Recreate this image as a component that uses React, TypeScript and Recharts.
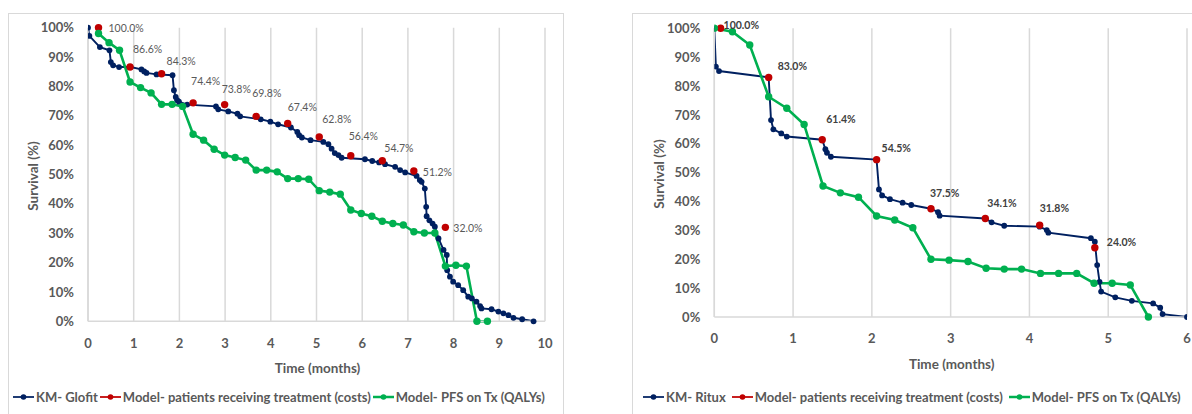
import React from 'react';
import { LineChart, Line, XAxis, YAxis, CartesianGrid, LabelList } from 'recharts';

type Pt = [number, number];

// ---------- Left chart (Glofit) ----------
const glofitKM: Pt[] = [
  [0, 100], [0.03, 97.2], [0.26, 93.4], [0.47, 92.3], [0.5, 88.3], [0.55, 87.2], [0.68, 86.6], [0.93, 86.6],
  [1.17, 85.8], [1.23, 85.1], [1.28, 84.6], [1.5, 84.1], [1.85, 83.8], [1.88, 78.7], [1.92, 76.4], [1.95, 75.3],
  [1.99, 74.8], [2.17, 73.8], [2.8, 73.2], [2.85, 72.2], [3.07, 71.5], [3.27, 70.7], [3.33, 69.8], [3.78, 68.8],
  [3.99, 68.0], [4.16, 67.1], [4.44, 66.0], [4.58, 64.5], [4.62, 63.4], [4.68, 62.6], [4.87, 61.7], [5.15, 61.1],
  [5.26, 60.3], [5.33, 58.8], [5.4, 57.3], [5.48, 56.6], [5.55, 55.7], [6.06, 55.2], [6.22, 54.6], [6.37, 54.1],
  [6.5, 53.5], [6.72, 52.6], [6.83, 51.5], [6.94, 50.7], [7.19, 49.5], [7.26, 48.1], [7.3, 47.5], [7.37, 45.2],
  [7.4, 39.0], [7.41, 35.8], [7.47, 34.4], [7.54, 33.3], [7.59, 32.2], [7.67, 28.2], [7.78, 24.3], [7.85, 22.6],
  [7.86, 17.4], [7.92, 15.2], [7.99, 13.5], [8.1, 12.3], [8.21, 10.6], [8.32, 8.4], [8.4, 7.8], [8.5, 6.7],
  [8.58, 5.2], [8.61, 4.4], [8.83, 4.1], [8.98, 3.3], [9.09, 2.7], [9.2, 2.1], [9.31, 1.2], [9.5, 0.7], [9.75, 0],
];
const glofitModelCosts: Pt[] = [
  [0.23, 100.0], [0.92, 86.6], [1.61, 84.3], [2.3, 74.4], [2.99, 73.8], [3.68, 69.8],
  [4.37, 67.4], [5.06, 62.8], [5.75, 56.4], [6.44, 54.7], [7.13, 51.2], [7.82, 32.0],
];
const glofitModelPFS: Pt[] = [
  [0.23, 98.0], [0.46, 94.9], [0.69, 92.3], [0.92, 81.5], [1.15, 79.6], [1.38, 77.8], [1.61, 73.9], [1.84, 73.9],
  [2.07, 73.2], [2.3, 63.7], [2.53, 61.7], [2.76, 58.6], [2.99, 56.6], [3.22, 55.8], [3.45, 54.9], [3.68, 51.5],
  [3.91, 51.5], [4.14, 50.9], [4.37, 48.6], [4.6, 48.6], [4.83, 48.4], [5.06, 44.5], [5.29, 44.0], [5.52, 43.3],
  [5.75, 37.9], [5.98, 36.7], [6.21, 35.8], [6.44, 34.1], [6.67, 33.3], [6.9, 32.8], [7.13, 30.5], [7.36, 30.1],
  [7.59, 30.1], [7.82, 18.8], [8.05, 19.1], [8.28, 18.8], [8.51, 0], [8.74, 0],
];
const leftXTicks = [0, 1, 2, 3, 4, 5, 6, 7, 8, 9, 10];

// ---------- Right chart (Ritux) ----------
const rituxKM: Pt[] = [
  [0, 100], [0.02, 86.7], [0.06, 85.2], [0.69, 83.0], [0.72, 68.2], [0.75, 65.0], [0.85, 63.6], [0.92, 62.5],
  [1.37, 61.4], [1.41, 58.1], [1.43, 56.9], [1.48, 55.5], [2.06, 54.5], [2.09, 44.2], [2.13, 42.1], [2.23, 40.8],
  [2.39, 39.6], [2.5, 38.8], [2.75, 37.5], [2.84, 36.3], [2.86, 35.1], [3.44, 34.1], [3.52, 32.8], [3.68, 31.6],
  [4.13, 31.3], [4.22, 30.1], [4.24, 29.2], [4.78, 27.3], [4.83, 26.1], [4.86, 18.0], [4.89, 12.2], [4.91, 8.8],
  [5.09, 6.8], [5.3, 5.6], [5.57, 4.7], [5.66, 3.2], [5.69, 1.0], [6.0, 0],
];
const rituxModelCosts: Pt[] = [
  [0.08, 100.0], [0.69, 83.0], [1.37, 61.4], [2.06, 54.5], [2.75, 37.5], [3.44, 34.1], [4.13, 31.8], [4.83, 24.0],
];
const rituxModelPFS: Pt[] = [
  [0, 100], [0.23, 98.8], [0.45, 94.2], [0.69, 76.3], [0.92, 72.3], [1.14, 66.7], [1.38, 45.4], [1.6, 43.0],
  [1.83, 41.5], [2.06, 35.0], [2.29, 33.6], [2.52, 30.9], [2.75, 20.0], [2.98, 19.7], [3.22, 19.2], [3.45, 16.9],
  [3.68, 16.6], [3.9, 16.6], [4.14, 15.1], [4.37, 15.1], [4.6, 15.1], [4.82, 11.7], [5.05, 11.7], [5.28, 11.1],
  [5.51, 0],
];
const rightXTicks = [0, 1, 2, 3, 4, 5, 6];

const yTicks = [0, 10, 20, 30, 40, 50, 60, 70, 80, 90, 100];
const leftLegend = ['KM- Glofit', 'Model- patients receiving treatment (costs)', 'Model- PFS on Tx (QALYs)'];
const rightLegend = ['KM- Ritux', 'Model- patients receiving treatment (costs)', 'Model- PFS on Tx (QALYs)'];

// ---------- styles ----------
const NAVY = '#002060';
const RED = '#C00000';
const GREEN = '#00B050';
const GRAY = '#595959';
const GRID = '#D9D9D9';
const FONT = 'Lato, "Open Sans", sans-serif';

// label offsets (dx to label start, dy to label centre) for each model-cost point
const leftLabelOffsets: Pt[] = [
  [10, 0], [3, -18], [5, -13], [-2, -22], [-3, -16], [-4, -23], [0, -16], [3, -18], [-2, -20], [2, -13], [9, 1], [8, 1],
];
const rightLabelOffsets: Pt[] = [
  [3, -3], [9, -11], [4, -21], [5, -12], [-1, -16], [2, -16], [0, -17], [12, -6],
];

const toRows = (pts: Pt[]) => pts.map(([t, s]) => ({ t, s }));

function makeLabel(offsets: Pt[], bold: boolean) {
  return (props: any) => {
    const { x, y, value, index } = props;
    const off = offsets[index] || [0, -17];
    return (
      <text
        x={x + off[0]}
        y={y + off[1]}
        dominantBaseline="central"
        fontSize={10.5}
        fill={bold ? '#404040' : GRAY}
        fontFamily={FONT}
        fontWeight={bold ? 700 : 400}
      >
        {Number(value).toFixed(1)}%
      </text>
    );
  };
}

interface ChartProps {
  left: number;
  width: number;
  height: number;
  plot: { left: number; top: number; right: number; bottom: number };
  xTicks: number[];
  km: Pt[];
  model: Pt[];
  pfs: Pt[];
  labelOffsets: Pt[];
  boldLabels: boolean;
  legend: string[];
  legendLeft: number;
  legendGap: number;
}

function LegendItem({ color, text, gap }: { color: string; text: string; gap: number }) {
  return (
    <div style={{ display: 'flex', alignItems: 'center', marginRight: gap }}>
      <svg width={21} height={10} style={{ display: 'block' }}>
        <line x1={0} y1={5} x2={21} y2={5} stroke={color} strokeWidth={color === GREEN ? 2.5 : 1.75} />
        <circle cx={10.5} cy={5} r={2.8} fill={color} />
      </svg>
      <span style={{ marginLeft: 2 }}>{text}</span>
    </div>
  );
}

function SurvivalChart(p: ChartProps) {
  const xMax = p.xTicks[p.xTicks.length - 1];
  const plotW = p.plot.right - p.plot.left;
  const plotH = p.plot.bottom - p.plot.top;
  return (
    <div
      style={{
        position: 'absolute',
        left: p.left,
        top: 13,
        width: p.width,
        height: p.height,
        border: `1px solid ${GRID}`,
        boxSizing: 'border-box',
        background: '#fff',
        fontFamily: FONT,
      }}
    >
      <div style={{ position: 'absolute', left: -1, top: -1 }}>
        <LineChart
          width={p.width}
          height={p.height}
          margin={{ top: p.plot.top, right: p.width - p.plot.right, left: 0, bottom: 0 }}
        >
          <CartesianGrid horizontal={false} vertical stroke={GRID} strokeWidth={1.5} />
          <XAxis
            dataKey="t"
            type="number"
            domain={[0, xMax]}
            ticks={p.xTicks}
            allowDataOverflow
            height={p.height - p.plot.bottom}
            tickLine={false}
            tickSize={0}
            tickMargin={17}
            axisLine={{ stroke: GRID, strokeWidth: 1.5 }}
            tick={{ fill: GRAY, fontSize: 13, fontWeight: 700, fontFamily: FONT }}
          />
          <YAxis
            type="number"
            domain={[0, 100]}
            ticks={yTicks}
            width={p.plot.left}
            tickLine={false}
            tickSize={0}
            tickMargin={14}
            axisLine={{ stroke: GRID, strokeWidth: 1.5 }}
            tickFormatter={(v: number) => `${v}%`}
            tick={{ fill: GRAY, fontSize: 13, fontWeight: 700, fontFamily: FONT }}
          />
          <Line
            data={toRows(p.km)}
            dataKey="s"
            type="linear"
            stroke={NAVY}
            strokeWidth={1.9}
            dot={{ r: 2.9, fill: NAVY, stroke: NAVY, strokeWidth: 0 }}
            activeDot={false}
            isAnimationActive={false}
          />
          <Line
            data={toRows(p.model)}
            dataKey="s"
            type="linear"
            stroke="none"
            strokeWidth={0}
            dot={{ r: 3.7, fill: RED, stroke: RED, strokeWidth: 0 }}
            activeDot={false}
            isAnimationActive={false}
          >
            <LabelList dataKey="s" content={makeLabel(p.labelOffsets, p.boldLabels)} />
          </Line>
          <Line
            data={toRows(p.pfs)}
            dataKey="s"
            type="linear"
            stroke={GREEN}
            strokeWidth={2.6}
            dot={{ r: 3.7, fill: GREEN, stroke: GREEN, strokeWidth: 0 }}
            activeDot={false}
            isAnimationActive={false}
          />
        </LineChart>
      </div>
      {/* axis titles */}
      <div
        style={{
          position: 'absolute',
          left: p.plot.left + plotW / 2 - 100,
          top: p.plot.bottom + 38,
          width: 200,
          textAlign: 'center',
          fontSize: 13.5,
          fontWeight: 700,
          color: GRAY,
          lineHeight: '16px',
        }}
      >
        Time (months)
      </div>
      <div
        style={{
          position: 'absolute',
          left: p.plot.left - 56 - 100,
          top: p.plot.top + plotH / 2 - 8,
          width: 200,
          height: 16,
          textAlign: 'center',
          fontSize: 13.5,
          fontWeight: 700,
          color: GRAY,
          lineHeight: '16px',
          transform: 'rotate(-90deg)',
        }}
      >
        Survival (%)
      </div>
      {/* legend */}
      <div
        style={{
          position: 'absolute',
          left: p.legendLeft,
          top: 374,
          display: 'flex',
          alignItems: 'center',
          fontSize: 13,
          fontWeight: 700,
          color: GRAY,
          whiteSpace: 'nowrap',
          lineHeight: '18px',
        }}
      >
        <LegendItem color={NAVY} text={p.legend[0]} gap={p.legendGap} />
        <LegendItem color={RED} text={p.legend[1]} gap={p.legendGap} />
        <LegendItem color={GREEN} text={p.legend[2]} gap={p.legendGap} />
      </div>
    </div>
  );
}

export default function App() {
  return (
    <div
      style={{
        position: 'fixed',
        left: 0,
        top: 0,
        width: 1192,
        height: 414,
        overflow: 'hidden',
        background: '#fff',
      }}
    >
      <SurvivalChart
        left={8}
        width={556}
        height={410}
        plot={{ left: 80, top: 14.7, right: 537, bottom: 308.3 }}
        xTicks={leftXTicks}
        km={glofitKM}
        model={glofitModelCosts}
        pfs={glofitModelPFS}
        labelOffsets={leftLabelOffsets}
        boldLabels={false}
        legend={leftLegend}
        legendLeft={4}
        legendGap={2}
      />
      <SurvivalChart
        left={632}
        width={600}
        height={410}
        plot={{ left: 82.3, top: 15.3, right: 555, bottom: 304 }}
        xTicks={rightXTicks}
        km={rituxKM}
        model={rituxModelCosts}
        pfs={rituxModelPFS}
        labelOffsets={rightLabelOffsets}
        boldLabels={true}
        legend={rightLegend}
        legendLeft={10}
        legendGap={6}
      />
    </div>
  );
}
